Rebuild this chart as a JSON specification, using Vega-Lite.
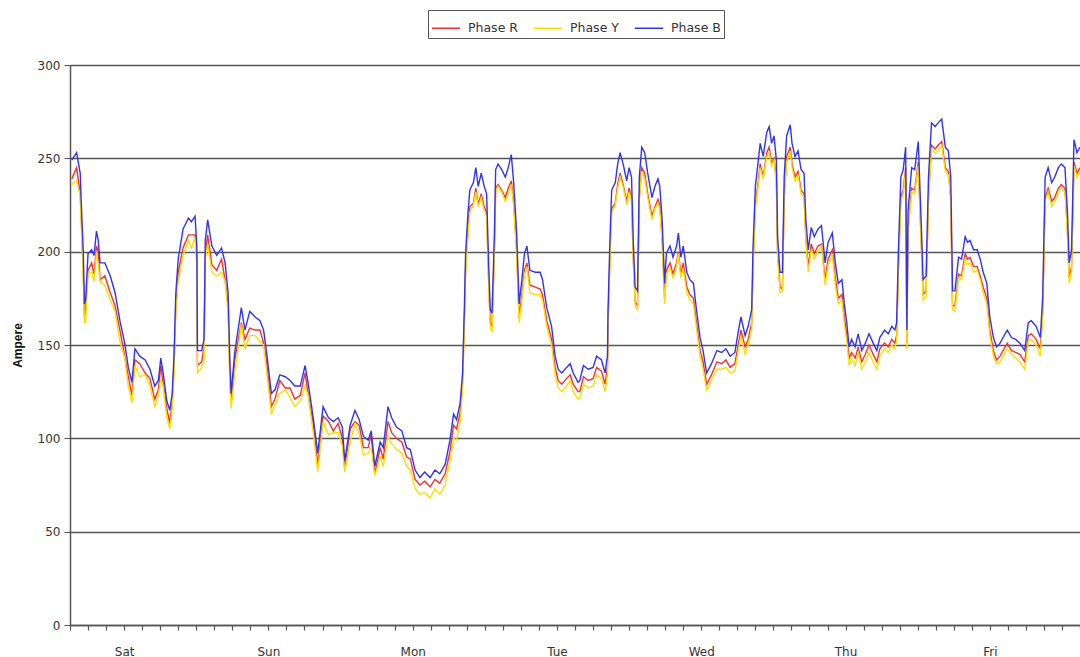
{
  "$schema": "https://vega.github.io/schema/vega-lite/v6.json",
  "width": 1010,
  "height": 560,
  "autosize": "none",
  "padding": {"left": 70, "top": 65, "right": 0, "bottom": 32},
  "background": "white",
  "config": {
    "view": {"stroke": null},
    "font": "Liberation Sans"
  },
  "data": {"values": [
    {"h":0.3,"Phase B":249,"Phase R":239,"Phase Y":236},
    {"h":1.1,"Phase B":253,"Phase R":245,"Phase Y":238},
    {"h":1.7,"Phase B":242,"Phase R":231,"Phase Y":230},
    {"h":1.9,"Phase B":224,"Phase R":216,"Phase Y":211},
    {"h":2.2,"Phase B":201,"Phase R":191,"Phase Y":187},
    {"h":2.4,"Phase B":172,"Phase R":165,"Phase Y":162},
    {"h":2.6,"Phase B":174,"Phase R":169,"Phase Y":162},
    {"h":3.0,"Phase B":199,"Phase R":190,"Phase Y":189},
    {"h":3.6,"Phase B":201,"Phase R":194,"Phase Y":189},
    {"h":4.0,"Phase B":198,"Phase R":188,"Phase Y":184},
    {"h":4.4,"Phase B":211,"Phase R":203,"Phase Y":200},
    {"h":4.7,"Phase B":206,"Phase R":200,"Phase Y":193},
    {"h":5.0,"Phase B":194,"Phase R":185,"Phase Y":184},
    {"h":5.8,"Phase B":194,"Phase R":187,"Phase Y":182},
    {"h":6.7,"Phase B":187,"Phase R":178,"Phase Y":174},
    {"h":7.5,"Phase B":178,"Phase R":171,"Phase Y":168},
    {"h":8.3,"Phase B":163,"Phase R":158,"Phase Y":152},
    {"h":9.1,"Phase B":151,"Phase R":144,"Phase Y":143},
    {"h":9.7,"Phase B":138,"Phase R":133,"Phase Y":128},
    {"h":10.3,"Phase B":130,"Phase R":123,"Phase Y":119},
    {"h":10.8,"Phase B":148,"Phase R":142,"Phase Y":139},
    {"h":11.6,"Phase B":144,"Phase R":140,"Phase Y":133},
    {"h":12.5,"Phase B":142,"Phase R":135,"Phase Y":134},
    {"h":13.3,"Phase B":137,"Phase R":132,"Phase Y":128},
    {"h":14.1,"Phase B":128,"Phase R":121,"Phase Y":117},
    {"h":14.7,"Phase B":131,"Phase R":126,"Phase Y":123},
    {"h":15.1,"Phase B":143,"Phase R":139,"Phase Y":132},
    {"h":15.5,"Phase B":135,"Phase R":129,"Phase Y":128},
    {"h":16.1,"Phase B":120,"Phase R":116,"Phase Y":111},
    {"h":16.6,"Phase B":115,"Phase R":108,"Phase Y":105},
    {"h":17.0,"Phase B":124,"Phase R":119,"Phase Y":116},
    {"h":17.3,"Phase B":144,"Phase R":140,"Phase Y":133},
    {"h":17.6,"Phase B":178,"Phase R":170,"Phase Y":169},
    {"h":18.0,"Phase B":196,"Phase R":189,"Phase Y":184},
    {"h":18.8,"Phase B":212,"Phase R":202,"Phase Y":198},
    {"h":19.7,"Phase B":218,"Phase R":209,"Phase Y":206},
    {"h":20.2,"Phase B":216,"Phase R":209,"Phase Y":202},
    {"h":20.8,"Phase B":219,"Phase R":209,"Phase Y":208},
    {"h":21.1,"Phase B":203,"Phase R":196,"Phase Y":191},
    {"h":21.2,"Phase B":147,"Phase R":139,"Phase Y":135},
    {"h":21.9,"Phase B":147,"Phase R":141,"Phase Y":138},
    {"h":22.3,"Phase B":153,"Phase R":149,"Phase Y":142},
    {"h":22.5,"Phase B":206,"Phase R":197,"Phase Y":196},
    {"h":22.9,"Phase B":217,"Phase R":209,"Phase Y":204},
    {"h":23.6,"Phase B":203,"Phase R":193,"Phase Y":189},
    {"h":24.4,"Phase B":198,"Phase R":190,"Phase Y":187},
    {"h":25.2,"Phase B":202,"Phase R":196,"Phase Y":189},
    {"h":25.8,"Phase B":194,"Phase R":185,"Phase Y":184},
    {"h":26.3,"Phase B":178,"Phase R":172,"Phase Y":167},
    {"h":26.6,"Phase B":140,"Phase R":132,"Phase Y":128},
    {"h":26.8,"Phase B":124,"Phase R":119,"Phase Y":116},
    {"h":27.4,"Phase B":146,"Phase R":142,"Phase Y":135},
    {"h":28.5,"Phase B":170,"Phase R":162,"Phase Y":161},
    {"h":29.1,"Phase B":158,"Phase R":153,"Phase Y":148},
    {"h":29.9,"Phase B":168,"Phase R":159,"Phase Y":155},
    {"h":30.8,"Phase B":165,"Phase R":158,"Phase Y":155},
    {"h":31.6,"Phase B":163,"Phase R":158,"Phase Y":152},
    {"h":32.2,"Phase B":158,"Phase R":151,"Phase Y":150},
    {"h":32.7,"Phase B":146,"Phase R":141,"Phase Y":136},
    {"h":33.5,"Phase B":124,"Phase R":117,"Phase Y":113},
    {"h":34.1,"Phase B":126,"Phase R":121,"Phase Y":118},
    {"h":34.9,"Phase B":134,"Phase R":131,"Phase Y":124},
    {"h":35.8,"Phase B":133,"Phase R":127,"Phase Y":126},
    {"h":36.6,"Phase B":131,"Phase R":127,"Phase Y":122},
    {"h":37.4,"Phase B":128,"Phase R":121,"Phase Y":117},
    {"h":38.3,"Phase B":128,"Phase R":123,"Phase Y":120},
    {"h":39.1,"Phase B":139,"Phase R":135,"Phase Y":128},
    {"h":39.6,"Phase B":130,"Phase R":124,"Phase Y":123},
    {"h":40.5,"Phase B":110,"Phase R":107,"Phase Y":102},
    {"h":41.2,"Phase B":92,"Phase R":86,"Phase Y":82},
    {"h":42.1,"Phase B":117,"Phase R":112,"Phase Y":109},
    {"h":43.0,"Phase B":111,"Phase R":109,"Phase Y":102},
    {"h":43.8,"Phase B":109,"Phase R":104,"Phase Y":103},
    {"h":44.6,"Phase B":111,"Phase R":108,"Phase Y":103},
    {"h":45.3,"Phase B":106,"Phase R":100,"Phase Y":96},
    {"h":45.7,"Phase B":88,"Phase R":84,"Phase Y":82},
    {"h":46.6,"Phase B":107,"Phase R":105,"Phase Y":98},
    {"h":47.4,"Phase B":115,"Phase R":109,"Phase Y":108},
    {"h":48.1,"Phase B":110,"Phase R":107,"Phase Y":102},
    {"h":48.8,"Phase B":101,"Phase R":95,"Phase Y":91},
    {"h":49.6,"Phase B":99,"Phase R":95,"Phase Y":92},
    {"h":50.1,"Phase B":104,"Phase R":102,"Phase Y":95},
    {"h":50.7,"Phase B":85,"Phase R":81,"Phase Y":80},
    {"h":51.6,"Phase B":98,"Phase R":95,"Phase Y":90},
    {"h":52.1,"Phase B":95,"Phase R":89,"Phase Y":85},
    {"h":52.9,"Phase B":117,"Phase R":109,"Phase Y":101},
    {"h":53.5,"Phase B":111,"Phase R":103,"Phase Y":97},
    {"h":54.3,"Phase B":106,"Phase R":100,"Phase Y":94},
    {"h":55.2,"Phase B":104,"Phase R":98,"Phase Y":92},
    {"h":56.0,"Phase B":95,"Phase R":90,"Phase Y":85},
    {"h":56.6,"Phase B":94,"Phase R":89,"Phase Y":83},
    {"h":57.4,"Phase B":83,"Phase R":78,"Phase Y":73},
    {"h":58.2,"Phase B":79,"Phase R":75,"Phase Y":70},
    {"h":59.0,"Phase B":82,"Phase R":77,"Phase Y":71},
    {"h":59.9,"Phase B":79,"Phase R":74,"Phase Y":68},
    {"h":60.7,"Phase B":83,"Phase R":78,"Phase Y":73},
    {"h":61.5,"Phase B":81,"Phase R":76,"Phase Y":70},
    {"h":62.4,"Phase B":86,"Phase R":81,"Phase Y":75},
    {"h":63.2,"Phase B":99,"Phase R":93,"Phase Y":88},
    {"h":63.8,"Phase B":113,"Phase R":107,"Phase Y":100},
    {"h":64.3,"Phase B":110,"Phase R":105,"Phase Y":99},
    {"h":64.9,"Phase B":119,"Phase R":114,"Phase Y":109},
    {"h":65.3,"Phase B":135,"Phase R":130,"Phase Y":126},
    {"h":65.6,"Phase B":170,"Phase R":164,"Phase Y":160},
    {"h":65.8,"Phase B":199,"Phase R":191,"Phase Y":188},
    {"h":66.2,"Phase B":221,"Phase R":212,"Phase Y":209},
    {"h":66.5,"Phase B":233,"Phase R":224,"Phase Y":221},
    {"h":67.1,"Phase B":237,"Phase R":226,"Phase Y":225},
    {"h":67.5,"Phase B":245,"Phase R":234,"Phase Y":232},
    {"h":67.9,"Phase B":235,"Phase R":225,"Phase Y":224},
    {"h":68.4,"Phase B":242,"Phase R":231,"Phase Y":229},
    {"h":68.9,"Phase B":235,"Phase R":224,"Phase Y":222},
    {"h":69.3,"Phase B":231,"Phase R":221,"Phase Y":219},
    {"h":69.6,"Phase B":197,"Phase R":189,"Phase Y":186},
    {"h":69.9,"Phase B":169,"Phase R":162,"Phase Y":159},
    {"h":70.2,"Phase B":167,"Phase R":160,"Phase Y":157},
    {"h":70.6,"Phase B":210,"Phase R":201,"Phase Y":199},
    {"h":70.8,"Phase B":244,"Phase R":234,"Phase Y":232},
    {"h":71.2,"Phase B":247,"Phase R":236,"Phase Y":235},
    {"h":71.8,"Phase B":244,"Phase R":233,"Phase Y":232},
    {"h":72.4,"Phase B":240,"Phase R":229,"Phase Y":227},
    {"h":72.9,"Phase B":245,"Phase R":234,"Phase Y":231},
    {"h":73.4,"Phase B":252,"Phase R":238,"Phase Y":236},
    {"h":73.8,"Phase B":237,"Phase R":226,"Phase Y":224},
    {"h":74.3,"Phase B":210,"Phase R":201,"Phase Y":198},
    {"h":74.7,"Phase B":172,"Phase R":165,"Phase Y":162},
    {"h":75.1,"Phase B":183,"Phase R":175,"Phase Y":172},
    {"h":75.6,"Phase B":199,"Phase R":190,"Phase Y":188},
    {"h":76.0,"Phase B":203,"Phase R":194,"Phase Y":192},
    {"h":76.5,"Phase B":190,"Phase R":182,"Phase Y":178},
    {"h":77.4,"Phase B":189,"Phase R":181,"Phase Y":177},
    {"h":78.2,"Phase B":189,"Phase R":180,"Phase Y":177},
    {"h":78.6,"Phase B":185,"Phase R":177,"Phase Y":174},
    {"h":79.3,"Phase B":170,"Phase R":163,"Phase Y":160},
    {"h":80.1,"Phase B":160,"Phase R":153,"Phase Y":150},
    {"h":80.7,"Phase B":144,"Phase R":138,"Phase Y":134},
    {"h":81.2,"Phase B":137,"Phase R":131,"Phase Y":127},
    {"h":81.8,"Phase B":135,"Phase R":129,"Phase Y":125},
    {"h":82.6,"Phase B":138,"Phase R":132,"Phase Y":128},
    {"h":83.2,"Phase B":140,"Phase R":134,"Phase Y":131},
    {"h":83.7,"Phase B":135,"Phase R":129,"Phase Y":125},
    {"h":84.5,"Phase B":130,"Phase R":125,"Phase Y":121},
    {"h":84.8,"Phase B":131,"Phase R":125,"Phase Y":122},
    {"h":85.4,"Phase B":139,"Phase R":133,"Phase Y":129},
    {"h":86.2,"Phase B":137,"Phase R":131,"Phase Y":127},
    {"h":87.0,"Phase B":138,"Phase R":132,"Phase Y":128},
    {"h":87.6,"Phase B":144,"Phase R":138,"Phase Y":134},
    {"h":88.4,"Phase B":142,"Phase R":136,"Phase Y":132},
    {"h":89.0,"Phase B":135,"Phase R":129,"Phase Y":125},
    {"h":89.4,"Phase B":144,"Phase R":138,"Phase Y":134},
    {"h":89.5,"Phase B":169,"Phase R":162,"Phase Y":159},
    {"h":89.8,"Phase B":205,"Phase R":196,"Phase Y":193},
    {"h":90.1,"Phase B":233,"Phase R":223,"Phase Y":221},
    {"h":90.7,"Phase B":237,"Phase R":226,"Phase Y":225},
    {"h":91.1,"Phase B":247,"Phase R":236,"Phase Y":234},
    {"h":91.5,"Phase B":253,"Phase R":242,"Phase Y":240},
    {"h":92.0,"Phase B":247,"Phase R":236,"Phase Y":235},
    {"h":92.6,"Phase B":238,"Phase R":227,"Phase Y":225},
    {"h":93.0,"Phase B":245,"Phase R":234,"Phase Y":232},
    {"h":93.4,"Phase B":240,"Phase R":229,"Phase Y":228},
    {"h":93.7,"Phase B":205,"Phase R":196,"Phase Y":194},
    {"h":94.0,"Phase B":181,"Phase R":173,"Phase Y":171},
    {"h":94.4,"Phase B":179,"Phase R":171,"Phase Y":169},
    {"h":94.7,"Phase B":240,"Phase R":229,"Phase Y":228},
    {"h":95.1,"Phase B":256,"Phase R":245,"Phase Y":243},
    {"h":95.6,"Phase B":253,"Phase R":242,"Phase Y":239},
    {"h":96.1,"Phase B":242,"Phase R":231,"Phase Y":229},
    {"h":96.8,"Phase B":229,"Phase R":219,"Phase Y":217},
    {"h":97.3,"Phase B":235,"Phase R":224,"Phase Y":223},
    {"h":97.8,"Phase B":239,"Phase R":228,"Phase Y":226},
    {"h":98.1,"Phase B":235,"Phase R":225,"Phase Y":223},
    {"h":98.5,"Phase B":217,"Phase R":207,"Phase Y":205},
    {"h":98.9,"Phase B":183,"Phase R":175,"Phase Y":172},
    {"h":99.2,"Phase B":199,"Phase R":190,"Phase Y":188},
    {"h":99.8,"Phase B":203,"Phase R":194,"Phase Y":191},
    {"h":100.3,"Phase B":197,"Phase R":188,"Phase Y":186},
    {"h":100.9,"Phase B":203,"Phase R":194,"Phase Y":192},
    {"h":101.2,"Phase B":210,"Phase R":200,"Phase Y":199},
    {"h":101.6,"Phase B":197,"Phase R":188,"Phase Y":186},
    {"h":102.0,"Phase B":203,"Phase R":194,"Phase Y":191},
    {"h":102.6,"Phase B":189,"Phase R":181,"Phase Y":178},
    {"h":103.1,"Phase B":185,"Phase R":177,"Phase Y":174},
    {"h":103.7,"Phase B":183,"Phase R":175,"Phase Y":172},
    {"h":104.2,"Phase B":169,"Phase R":162,"Phase Y":159},
    {"h":104.8,"Phase B":154,"Phase R":147,"Phase Y":144},
    {"h":105.3,"Phase B":147,"Phase R":141,"Phase Y":137},
    {"h":105.9,"Phase B":135,"Phase R":129,"Phase Y":126},
    {"h":106.7,"Phase B":140,"Phase R":134,"Phase Y":131},
    {"h":107.6,"Phase B":147,"Phase R":141,"Phase Y":137},
    {"h":108.4,"Phase B":146,"Phase R":140,"Phase Y":137},
    {"h":109.1,"Phase B":148,"Phase R":142,"Phase Y":138},
    {"h":109.8,"Phase B":144,"Phase R":138,"Phase Y":135},
    {"h":110.6,"Phase B":146,"Phase R":140,"Phase Y":136},
    {"h":111.2,"Phase B":158,"Phase R":151,"Phase Y":148},
    {"h":111.6,"Phase B":165,"Phase R":158,"Phase Y":155},
    {"h":112.3,"Phase B":155,"Phase R":149,"Phase Y":145},
    {"h":112.8,"Phase B":160,"Phase R":153,"Phase Y":150},
    {"h":113.4,"Phase B":169,"Phase R":162,"Phase Y":159},
    {"h":113.6,"Phase B":201,"Phase R":192,"Phase Y":190},
    {"h":114.0,"Phase B":235,"Phase R":225,"Phase Y":223},
    {"h":114.5,"Phase B":249,"Phase R":238,"Phase Y":236},
    {"h":114.8,"Phase B":258,"Phase R":247,"Phase Y":245},
    {"h":115.3,"Phase B":251,"Phase R":240,"Phase Y":239},
    {"h":115.9,"Phase B":264,"Phase R":253,"Phase Y":251},
    {"h":116.3,"Phase B":267,"Phase R":256,"Phase Y":253},
    {"h":116.7,"Phase B":258,"Phase R":247,"Phase Y":246},
    {"h":117.1,"Phase B":262,"Phase R":250,"Phase Y":249},
    {"h":117.5,"Phase B":249,"Phase R":238,"Phase Y":237},
    {"h":117.7,"Phase B":208,"Phase R":199,"Phase Y":197},
    {"h":118.1,"Phase B":189,"Phase R":181,"Phase Y":178},
    {"h":118.5,"Phase B":189,"Phase R":180,"Phase Y":179},
    {"h":118.8,"Phase B":240,"Phase R":229,"Phase Y":228},
    {"h":119.2,"Phase B":262,"Phase R":251,"Phase Y":248},
    {"h":119.8,"Phase B":268,"Phase R":256,"Phase Y":254},
    {"h":120.1,"Phase B":258,"Phase R":247,"Phase Y":245},
    {"h":120.6,"Phase B":251,"Phase R":240,"Phase Y":238},
    {"h":121.1,"Phase B":254,"Phase R":243,"Phase Y":241},
    {"h":121.6,"Phase B":244,"Phase R":233,"Phase Y":231},
    {"h":122.1,"Phase B":242,"Phase R":231,"Phase Y":229},
    {"h":122.4,"Phase B":217,"Phase R":207,"Phase Y":206},
    {"h":122.8,"Phase B":201,"Phase R":192,"Phase Y":189},
    {"h":123.3,"Phase B":213,"Phase R":204,"Phase Y":201},
    {"h":123.8,"Phase B":208,"Phase R":199,"Phase Y":196},
    {"h":124.4,"Phase B":212,"Phase R":203,"Phase Y":200},
    {"h":125.0,"Phase B":214,"Phase R":204,"Phase Y":203},
    {"h":125.6,"Phase B":194,"Phase R":185,"Phase Y":182},
    {"h":126.1,"Phase B":205,"Phase R":196,"Phase Y":193},
    {"h":126.8,"Phase B":210,"Phase R":201,"Phase Y":198},
    {"h":127.3,"Phase B":194,"Phase R":186,"Phase Y":182},
    {"h":127.8,"Phase B":183,"Phase R":175,"Phase Y":172},
    {"h":128.4,"Phase B":185,"Phase R":177,"Phase Y":174},
    {"h":128.8,"Phase B":172,"Phase R":165,"Phase Y":161},
    {"h":129.2,"Phase B":162,"Phase R":155,"Phase Y":152},
    {"h":129.6,"Phase B":149,"Phase R":143,"Phase Y":139},
    {"h":130.0,"Phase B":153,"Phase R":146,"Phase Y":143},
    {"h":130.6,"Phase B":149,"Phase R":143,"Phase Y":139},
    {"h":131.1,"Phase B":156,"Phase R":149,"Phase Y":146},
    {"h":131.7,"Phase B":147,"Phase R":141,"Phase Y":137},
    {"h":132.3,"Phase B":151,"Phase R":145,"Phase Y":141},
    {"h":132.9,"Phase B":156,"Phase R":150,"Phase Y":146},
    {"h":133.6,"Phase B":151,"Phase R":145,"Phase Y":141},
    {"h":134.2,"Phase B":147,"Phase R":141,"Phase Y":137},
    {"h":134.7,"Phase B":154,"Phase R":148,"Phase Y":144},
    {"h":135.5,"Phase B":158,"Phase R":151,"Phase Y":148},
    {"h":136.1,"Phase B":156,"Phase R":149,"Phase Y":146},
    {"h":136.7,"Phase B":160,"Phase R":153,"Phase Y":150},
    {"h":137.2,"Phase B":158,"Phase R":151,"Phase Y":148},
    {"h":137.5,"Phase B":162,"Phase R":155,"Phase Y":152},
    {"h":137.8,"Phase B":201,"Phase R":192,"Phase Y":190},
    {"h":138.2,"Phase B":240,"Phase R":229,"Phase Y":227},
    {"h":138.6,"Phase B":244,"Phase R":233,"Phase Y":231},
    {"h":139.0,"Phase B":256,"Phase R":245,"Phase Y":243},
    {"h":139.2,"Phase B":158,"Phase R":151,"Phase Y":148},
    {"h":139.4,"Phase B":222,"Phase R":212,"Phase Y":210},
    {"h":140.0,"Phase B":245,"Phase R":234,"Phase Y":232},
    {"h":140.5,"Phase B":244,"Phase R":233,"Phase Y":231},
    {"h":141.1,"Phase B":259,"Phase R":248,"Phase Y":246},
    {"h":141.7,"Phase B":205,"Phase R":196,"Phase Y":194},
    {"h":141.9,"Phase B":185,"Phase R":177,"Phase Y":174},
    {"h":142.4,"Phase B":187,"Phase R":179,"Phase Y":176},
    {"h":142.8,"Phase B":240,"Phase R":229,"Phase Y":227},
    {"h":143.3,"Phase B":269,"Phase R":257,"Phase Y":255},
    {"h":143.9,"Phase B":267,"Phase R":255,"Phase Y":253},
    {"h":144.4,"Phase B":269,"Phase R":257,"Phase Y":254},
    {"h":145.0,"Phase B":271,"Phase R":259,"Phase Y":257},
    {"h":145.6,"Phase B":256,"Phase R":245,"Phase Y":243},
    {"h":146.1,"Phase B":254,"Phase R":243,"Phase Y":241},
    {"h":146.5,"Phase B":240,"Phase R":229,"Phase Y":228},
    {"h":146.8,"Phase B":179,"Phase R":171,"Phase Y":169},
    {"h":147.2,"Phase B":179,"Phase R":171,"Phase Y":168},
    {"h":147.8,"Phase B":197,"Phase R":188,"Phase Y":186},
    {"h":148.3,"Phase B":196,"Phase R":187,"Phase Y":185},
    {"h":148.9,"Phase B":208,"Phase R":199,"Phase Y":196},
    {"h":149.3,"Phase B":205,"Phase R":196,"Phase Y":193},
    {"h":149.7,"Phase B":206,"Phase R":197,"Phase Y":194},
    {"h":150.3,"Phase B":201,"Phase R":192,"Phase Y":189},
    {"h":150.9,"Phase B":201,"Phase R":192,"Phase Y":190},
    {"h":151.4,"Phase B":196,"Phase R":187,"Phase Y":185},
    {"h":151.9,"Phase B":189,"Phase R":181,"Phase Y":178},
    {"h":152.5,"Phase B":183,"Phase R":175,"Phase Y":172},
    {"h":153.0,"Phase B":165,"Phase R":158,"Phase Y":155},
    {"h":153.6,"Phase B":154,"Phase R":147,"Phase Y":144},
    {"h":154.1,"Phase B":149,"Phase R":142,"Phase Y":140},
    {"h":154.7,"Phase B":151,"Phase R":144,"Phase Y":141},
    {"h":155.2,"Phase B":154,"Phase R":147,"Phase Y":144},
    {"h":155.9,"Phase B":158,"Phase R":151,"Phase Y":148},
    {"h":156.6,"Phase B":154,"Phase R":147,"Phase Y":145},
    {"h":157.3,"Phase B":153,"Phase R":146,"Phase Y":143},
    {"h":158.0,"Phase B":151,"Phase R":145,"Phase Y":141},
    {"h":158.8,"Phase B":147,"Phase R":141,"Phase Y":137},
    {"h":159.4,"Phase B":162,"Phase R":155,"Phase Y":152},
    {"h":159.9,"Phase B":163,"Phase R":156,"Phase Y":153},
    {"h":160.7,"Phase B":160,"Phase R":153,"Phase Y":150},
    {"h":161.4,"Phase B":154,"Phase R":148,"Phase Y":144},
    {"h":161.8,"Phase B":176,"Phase R":168,"Phase Y":166},
    {"h":162.2,"Phase B":240,"Phase R":229,"Phase Y":227},
    {"h":162.7,"Phase B":245,"Phase R":234,"Phase Y":232},
    {"h":163.3,"Phase B":237,"Phase R":227,"Phase Y":224},
    {"h":163.8,"Phase B":240,"Phase R":229,"Phase Y":227},
    {"h":164.4,"Phase B":245,"Phase R":234,"Phase Y":232},
    {"h":164.9,"Phase B":247,"Phase R":236,"Phase Y":234},
    {"h":165.5,"Phase B":245,"Phase R":234,"Phase Y":232},
    {"h":165.9,"Phase B":222,"Phase R":212,"Phase Y":210},
    {"h":166.2,"Phase B":194,"Phase R":186,"Phase Y":183},
    {"h":166.6,"Phase B":201,"Phase R":192,"Phase Y":190},
    {"h":167.0,"Phase B":260,"Phase R":248,"Phase Y":246},
    {"h":167.5,"Phase B":253,"Phase R":242,"Phase Y":240},
    {"h":168.0,"Phase B":256,"Phase R":245,"Phase Y":243}
  ]},
  "transform": [
    {"fold": ["Phase R", "Phase Y", "Phase B"], "as": ["phase", "ampere"]}
  ],
  "mark": {"type": "line", "strokeWidth": 1.4, "clip": true},
  "encoding": {
    "x": {
      "field": "h",
      "type": "quantitative",
      "scale": {"domain": [0, 168], "nice": false, "zero": false},
      "axis": {
        "title": null,
        "grid": false,
        "values": [0,3,6,9,12,15,18,21,24,27,30,33,36,39,42,45,48,51,54,57,60,63,66,69,72,75,78,81,84,87,90,93,96,99,102,105,108,111,114,117,120,123,126,129,132,135,138,141,144,147,150,153,156,159,162,165,168],
        "labelExpr": "datum.value % 24 == 9 ? ['Sat','Sun','Mon','Tue','Wed','Thu','Fri'][floor(datum.value / 24)] : ''",
        "labelOverlap": false,
        "labelFlush": false,
        "labelBound": false,
        "labelFont": "DejaVu Sans",
        "labelFontSize": 12,
        "labelColor": "#333333",
        "labelPadding": 16,
        "tickSize": 5,
        "tickColor": "#555555",
        "tickWidth": 1.2,
        "domainColor": "#555555",
        "domainWidth": 1.5
      }
    },
    "y": {
      "field": "ampere",
      "type": "quantitative",
      "scale": {"domain": [0, 300], "nice": false},
      "axis": {
        "title": "Ampere",
        "titleFontSize": 12,
        "titleFontWeight": "bold",
        "titleColor": "#111111",
        "titlePadding": 13,
        "values": [0, 50, 100, 150, 200, 250, 300],
        "grid": true,
        "gridColor": "#555555",
        "gridWidth": 1.3,
        "labelFont": "DejaVu Sans",
        "labelFontSize": 12,
        "labelColor": "#333333",
        "labelPadding": 4,
        "tickSize": 6,
        "tickColor": "#555555",
        "domainColor": "#555555",
        "domainWidth": 1.5
      }
    },
    "color": {
      "field": "phase",
      "type": "nominal",
      "scale": {"domain": ["Phase R", "Phase Y", "Phase B"], "range": ["#ee3333", "#ffdd00", "#3333ee"]},
      "legend": {
        "title": null,
        "orient": "none",
        "legendX": 358,
        "legendY": -55,
        "direction": "horizontal",
        "symbolType": "stroke",
        "symbolSize": 800,
        "symbolStrokeWidth": 1.5,
        "labelFont": "DejaVu Sans",
        "labelFontSize": 12.5,
        "labelColor": "#333333",
        "strokeColor": "#555555",
        "padding": 3,
        "columnPadding": 12,
        "labelOffset": 7
      }
    }
  }
}
